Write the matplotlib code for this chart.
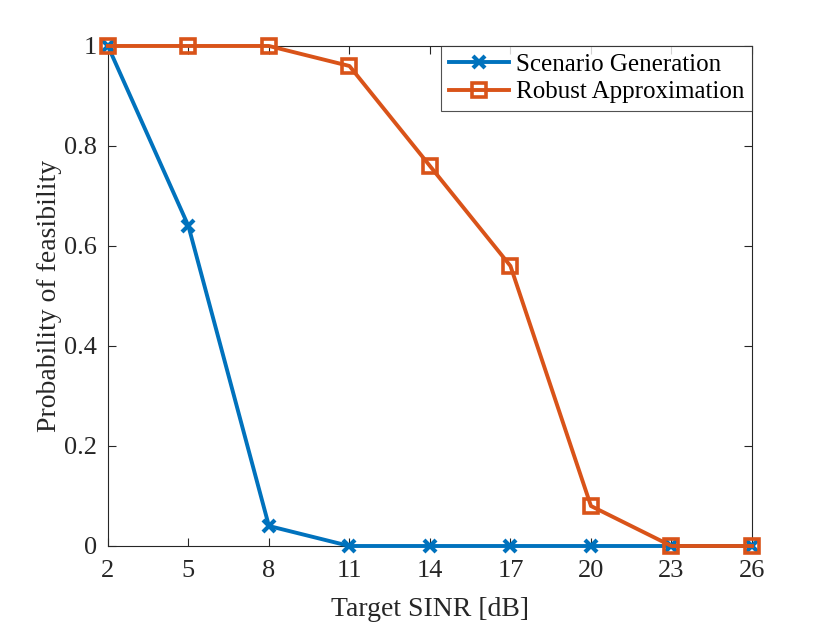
import numpy as np
import matplotlib
matplotlib.use("Agg")
import matplotlib.pyplot as plt

sinr_db = [2, 5, 8, 11, 14, 17, 20, 23, 26]
scenario_gen = [1, 0.64, 0.04, 0, 0, 0, 0, 0, 0]
robust_approx = [1, 1, 1, 0.96, 0.76, 0.56, 0.08, 0, 0]

plt.rcParams['font.family'] = ['Liberation Serif', 'DejaVu Serif']
plt.rcParams['mathtext.fontset'] = 'stix'

fig = plt.figure(figsize=(8.3, 6.23), dpi=100)
ax = fig.add_axes([0.130, 0.1236, 0.776, 0.8026])

ax.plot(sinr_db, scenario_gen, color='#0072BD', lw=2.8, marker='x',
        ms=9, mew=3, label='Scenario Generation', clip_on=False, zorder=3)
ax.plot(sinr_db, robust_approx, color='#D95319', lw=2.8, marker='s',
        ms=10, mew=2.6, mfc='none', label='Robust Approximation',
        clip_on=False, zorder=4)

ax.set_xlim(2, 26)
ax.set_ylim(0, 1)
ax.set_xticks(sinr_db)
ax.set_yticks([0, 0.2, 0.4, 0.6, 0.8, 1])
ax.set_yticklabels(['0', '0.2', '0.4', '0.6', '0.8', '1'])
ax.tick_params(direction='in', top=True, right=True, labelsize=19,
               length=6, width=0.8, colors='#262626', pad=10)
ax.tick_params(axis='y', pad=8)
for s in ax.spines.values():
    s.set_color('#262626')
    s.set_linewidth(0.8)

ax.set_xlabel('Target SINR [dB]', fontsize=20, color='#262626', labelpad=11)
ax.set_ylabel('Probability of feasibility', fontsize=20, color='#262626', labelpad=1)

leg = ax.legend(loc='upper right', fontsize=18, frameon=True, fancybox=False,
                edgecolor='#262626', borderaxespad=0, handlelength=2.4,
                borderpad=0.3, labelspacing=0.2, handletextpad=0.3)
leg.get_frame().set_linewidth(0.8)

fig.savefig('out.png', dpi=100)
